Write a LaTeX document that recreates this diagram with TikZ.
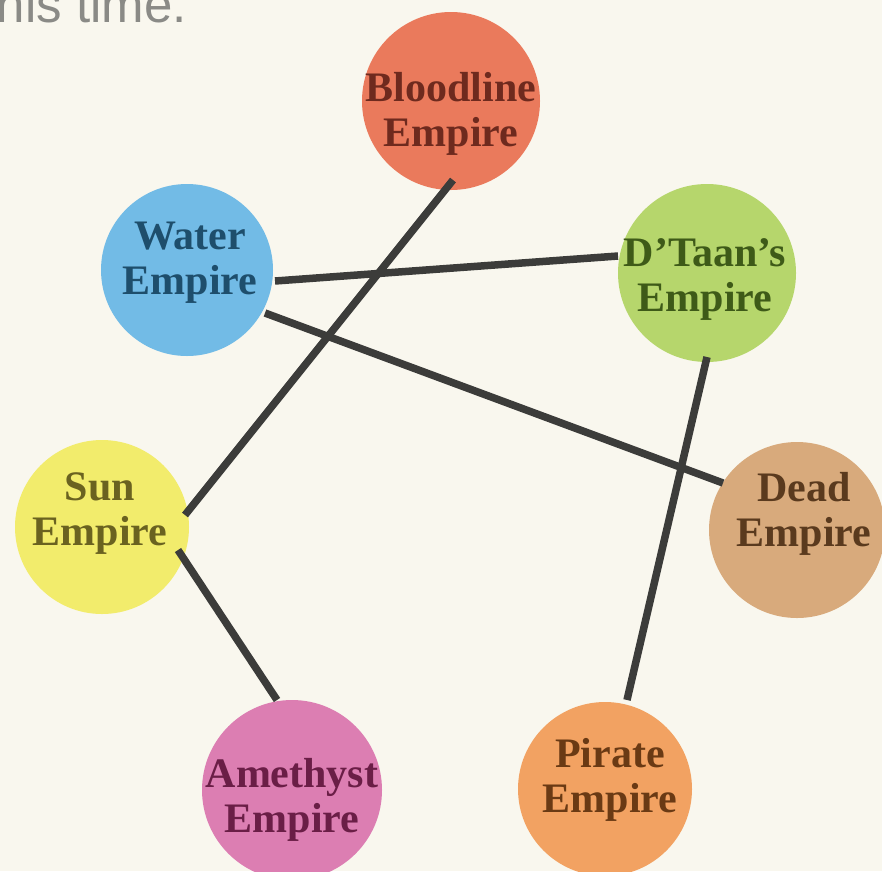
\documentclass[tikz,border=0pt]{standalone}
\usepackage{fontspec}
\setmainfont{Liberation Serif}
\newfontfamily\toptextfont{Liberation Sans}
\usetikzlibrary{calc}
\definecolor{bgcol}{HTML}{F9F7EE}
\definecolor{linkcol}{HTML}{3C3C3A}
\definecolor{bloodfill}{HTML}{EA7A5C}
\definecolor{bloodtext}{HTML}{6E2A1E}
\definecolor{waterfill}{HTML}{72BBE6}
\definecolor{watertext}{HTML}{1E4E6C}
\definecolor{dtaanfill}{HTML}{B6D66C}
\definecolor{dtaantext}{HTML}{3E5A18}
\definecolor{sunfill}{HTML}{F2EC6C}
\definecolor{suntext}{HTML}{6A6220}
\definecolor{deadfill}{HTML}{D8AA7C}
\definecolor{deadtext}{HTML}{5A3A1E}
\definecolor{amefill}{HTML}{DC7EB2}
\definecolor{ametext}{HTML}{6A1E46}
\definecolor{piratefill}{HTML}{F2A262}
\definecolor{piratetext}{HTML}{6A3A14}
\definecolor{topgray}{HTML}{8A8A86}
\tikzset{
  empire/.style={circle, minimum size=176pt, inner sep=0pt, draw=none},
  empirelabel/.style={align=center, inner sep=0pt, font=\fontsize{42}{45}\selectfont\bfseries},
  link/.style={draw=linkcol, line width=7.5pt, line cap=butt}
}
\begin{document}
\begin{tikzpicture}[x=1pt,y=-1pt]
\fill[bgcol] (0,0) rectangle (882,871);
\useasboundingbox (0,0) rectangle (882,871);
\clip (0,0) rectangle (882,871);
% top text
\node[anchor=base east, inner sep=0pt, text=topgray, font=\toptextfont\fontsize{51}{53}\selectfont] (toptext) at (187,22) {this time.};
% circles
\node[empire, fill=bloodfill, minimum size=178pt] (blood) at (451,101) {};
\node[empire, fill=waterfill, minimum size=172pt] (water) at (187,270) {};
\node[empire, fill=dtaanfill, minimum size=178pt] (dtaan) at (707,273) {};
\node[empire, fill=sunfill, minimum size=174pt] (sun) at (102,527) {};
\node[empire, fill=deadfill] (dead) at (797,530) {};
\node[empire, fill=amefill, minimum size=180pt] (ame) at (292,790) {};
\node[empire, fill=piratefill, minimum size=174pt] (pirate) at (605,789) {};
% labels
\node[empirelabel, text=bloodtext] (bloodlab) at (451,114) {Bloodline\\Empire};
\node[empirelabel, text=watertext] (waterlab) at (190,263) {Water\\Empire};
\node[empirelabel, text=dtaantext] (dtaanlab) at (705,279) {D'Taan's\\Empire};
\node[empirelabel, text=suntext] (sunlab) at (100,514) {Sun\\Empire};
\node[empirelabel, text=deadtext] (deadlab) at (804,514) {Dead\\Empire};
\node[empirelabel, text=ametext] (amelab) at (292,800) {Amethyst\\Empire};
\node[empirelabel, text=piratetext] (piratelab) at (610,780) {Pirate\\Empire};
% connectors
\draw[link] ($(blood)+(2,79)$) -- ($(sun)+(83,-12)$);
\draw[link] ($(water)+(88,11)$) -- ($(dtaan)+(-89,-17)$);
\draw[link] ($(water)+(78,43)$) -- ($(dead)+(-74,-47)$);
\draw[link] ($(dtaan)+(0,84)$) -- ($(pirate)+(22,-89)$);
\draw[link] ($(sun)+(76,23)$) -- ($(ame)+(-15,-90)$);
\end{tikzpicture}
\end{document}
